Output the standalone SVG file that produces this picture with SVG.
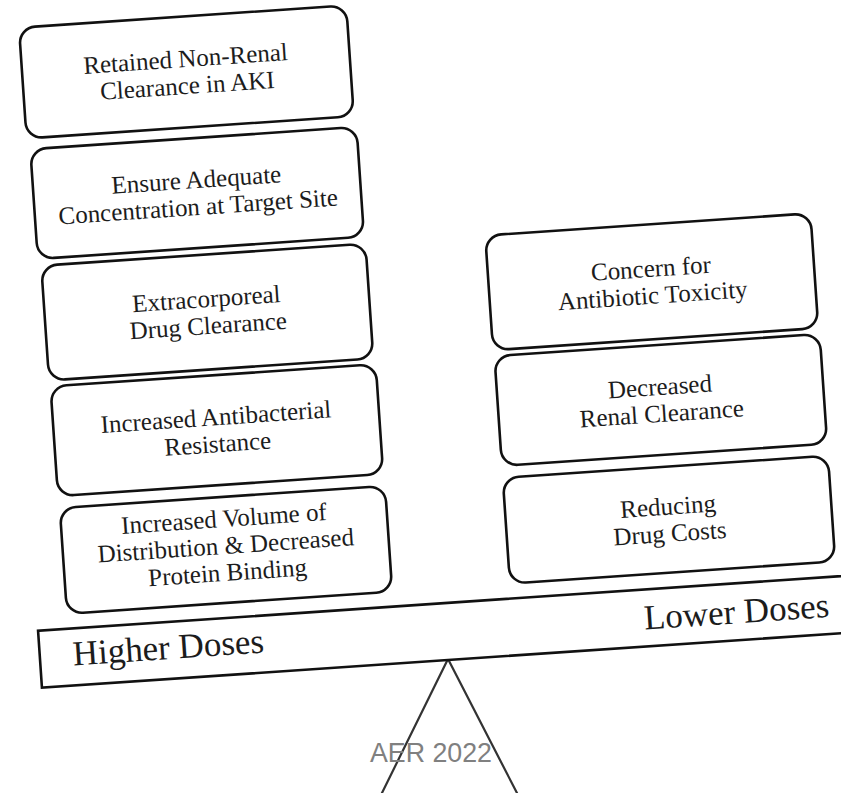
<svg xmlns="http://www.w3.org/2000/svg" width="841" height="793" viewBox="0 0 841 793">
<style>
.box{fill:#fff;stroke:#111;stroke-width:2.6}
.t{font-family:"Liberation Serif","Times New Roman",serif;font-size:25px;fill:#1c1c1c;text-anchor:middle}
.big{font-family:"Liberation Serif","Times New Roman",serif;font-size:35px;fill:#1c1c1c}
.beam{fill:#fff;stroke:#111;stroke-width:2.6}
.fulcrum{fill:none;stroke:#333;stroke-width:2.2}
.wm{font-family:"Liberation Sans",Arial,sans-serif;font-size:28px;fill:#808080}
</style>
<rect width="841" height="793" fill="#fff"/>
<g id="fulcrum"><polyline class="fulcrum" points="378.5,800 448,659 520.6,800"/></g>
<g id="connectors"></g>
<g transform="translate(448 660) rotate(-3.9)">
  <g id="beam">
    <rect class="beam" x="-407" y="-57" width="880" height="57"/>
    <text class="big" x="-374" y="-20">Higher Doses</text>
    <text class="big" x="384" y="-17" text-anchor="end">Lower Doses</text>
  </g>
  <g id="box-retained">
    <rect class="box" x="-385" y="-660" width="328" height="111" rx="16"/>
    <text class="t" x="-221" y="-609.5">Retained Non-Renal</text>
    <text class="t" x="-221" y="-582.5">Clearance in AKI</text>
  </g>
  <g id="box-ensure">
    <rect class="box" x="-382" y="-538" width="327" height="110" rx="16"/>
    <text class="t" x="-218.5" y="-488">Ensure Adequate</text>
    <text class="t" x="-218.5" y="-461">Concentration at Target Site</text>
  </g>
  <g id="box-extracorporeal">
    <rect class="box" x="-379" y="-421" width="325" height="115" rx="16"/>
    <text class="t" x="-216.5" y="-368.5">Extracorporeal</text>
    <text class="t" x="-216.5" y="-341.5">Drug Clearance</text>
  </g>
  <g id="box-resistance">
    <rect class="box" x="-378" y="-300" width="326" height="110" rx="16"/>
    <text class="t" x="-215" y="-250">Increased Antibacterial</text>
    <text class="t" x="-215" y="-223">Resistance</text>
  </g>
  <g id="box-volume">
    <rect class="box" x="-377" y="-178" width="326" height="106" rx="16"/>
    <text class="t" x="-214" y="-148">Increased Volume of</text>
    <text class="t" x="-214" y="-121">Distribution &amp; Decreased</text>
    <text class="t" x="-214" y="-94">Protein Binding</text>
  </g>
  <g id="box-toxicity">
    <rect class="box" x="66" y="-421" width="326" height="115" rx="16"/>
    <text class="t" x="229" y="-368.5">Concern for</text>
    <text class="t" x="229" y="-341.5">Antibiotic Toxicity</text>
  </g>
  <g id="box-renal">
    <rect class="box" x="67" y="-300" width="326" height="110" rx="16"/>
    <text class="t" x="230" y="-250">Decreased</text>
    <text class="t" x="230" y="-223">Renal Clearance</text>
  </g>
  <g id="box-costs">
    <rect class="box" x="67" y="-178" width="326" height="106" rx="16"/>
    <text class="t" x="230" y="-130">Reducing</text>
    <text class="t" x="230" y="-103">Drug Costs</text>
  </g>
</g>
<text class="wm" x="370" y="762" textLength="122" lengthAdjust="spacingAndGlyphs">AER 2022</text>
</svg>
